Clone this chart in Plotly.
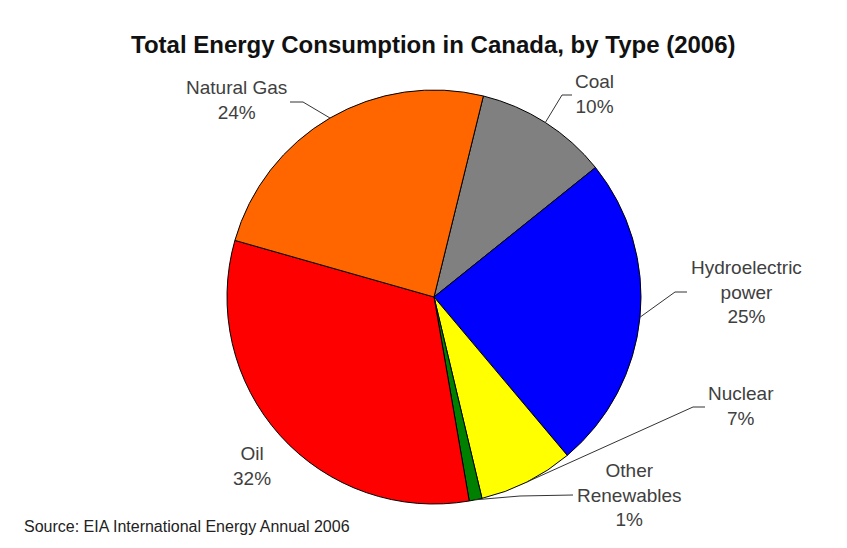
import math
import plotly.graph_objects as go

# ---- data ----
categories = ["Coal", "Hydroelectric<br>power", "Nuclear", "Other<br>Renewables", "Oil", "Natural Gas"]
shares = [10.4, 24.6, 7.4, 1.0, 32.1, 24.4]
colors = ["#808080", "#0000FF", "#FFFF00", "#008000", "#FF0000", "#FF6600"]
title_text = "Total Energy Consumption in Canada, by Type (2006)"
source_text = "Source: EIA International Energy Annual 2006"

# ---- layout geometry (pixels) ----
W, H = 847, 548
CX, CY, R = 434, 297, 207
ROT = 13.8

# label block centres, and leader-line elbow / end points (None = no leader line)
label_pos = [(594, 94), (746, 292), (741, 406), (629, 495), (252, 466), (236, 100)]
leader = [((562, 95), (572, 95)),
          ((675, 292), (687, 292)),
          ((693, 407), (705, 407)),
          ((520, 496), (573, 495)),
          None,
          ((303, 102), (290, 102))]


def px(x, y):
    return x / W, 1 - y / H


fig = go.Figure(go.Pie(
    values=shares,
    labels=[c.replace("<br>", " ") for c in categories],
    sort=False,
    direction="clockwise",
    rotation=ROT,
    marker=dict(colors=colors, line=dict(color="#000000", width=1)),
    textinfo="none",
    hoverinfo="label+percent",
    showlegend=False,
    domain=dict(x=[(CX - R) / W, (CX + R) / W], y=[1 - (CY + R) / H, 1 - (CY - R) / H]),
))

total = sum(shares)
start = ROT
annotations = []
shapes = []
for cat, v, pos, ld in zip(categories, shares, label_pos, leader):
    mid = math.radians(start + v / total * 360 / 2)
    start += v / total * 360
    ax_, ay_ = CX + R * math.sin(mid), CY - R * math.cos(mid)
    lx, ly = px(*pos)
    annotations.append(dict(
        x=lx, y=ly, xref="paper", yref="paper", xanchor="center", yanchor="middle",
        text=f"{cat}<br>{round(v)}%", showarrow=False, align="center",
        font=dict(family="Liberation Sans, Arial, sans-serif", size=19, color="#404040"),
    ))
    if ld is not None:
        p0 = px(ax_, ay_)
        p1 = px(*ld[0])
        p2 = px(*ld[1])
        shapes.append(dict(
            type="path", xref="paper", yref="paper",
            path=f"M {p0[0]},{p0[1]} L {p1[0]},{p1[1]} L {p2[0]},{p2[1]}",
            line=dict(color="#333333", width=1),
        ))

sx, sy = px(22, 526)
annotations.append(dict(
    x=sx, y=sy, xref="paper", yref="paper", xanchor="left", yanchor="middle",
    text=source_text, showarrow=False,
    font=dict(family="Liberation Sans, Arial, sans-serif", size=16, color="#222222"),
))

tx, ty = px(433, 44)
annotations.append(dict(
    x=tx, y=ty, xref="paper", yref="paper", xanchor="center", yanchor="middle",
    text=f"<b>{title_text}</b>", showarrow=False,
    font=dict(family="Liberation Sans, Arial, sans-serif", size=24, color="#111111"),
))

fig.update_layout(
    width=W, height=H,
    margin=dict(l=0, r=0, t=0, b=0),
    paper_bgcolor="#FFFFFF",
    plot_bgcolor="#FFFFFF",
    annotations=annotations,
    shapes=shapes,
)

fig.write_html("out.html", config={"displayModeBar": False})

# remove the browser's default body margin so the figure sits at the window's origin
with open("out.html", "r", encoding="utf-8") as f:
    html = f.read()
html = html.replace("<body>", '<body style="margin:0;padding:0;overflow:hidden">', 1)
with open("out.html", "w", encoding="utf-8") as f:
    f.write(html)
